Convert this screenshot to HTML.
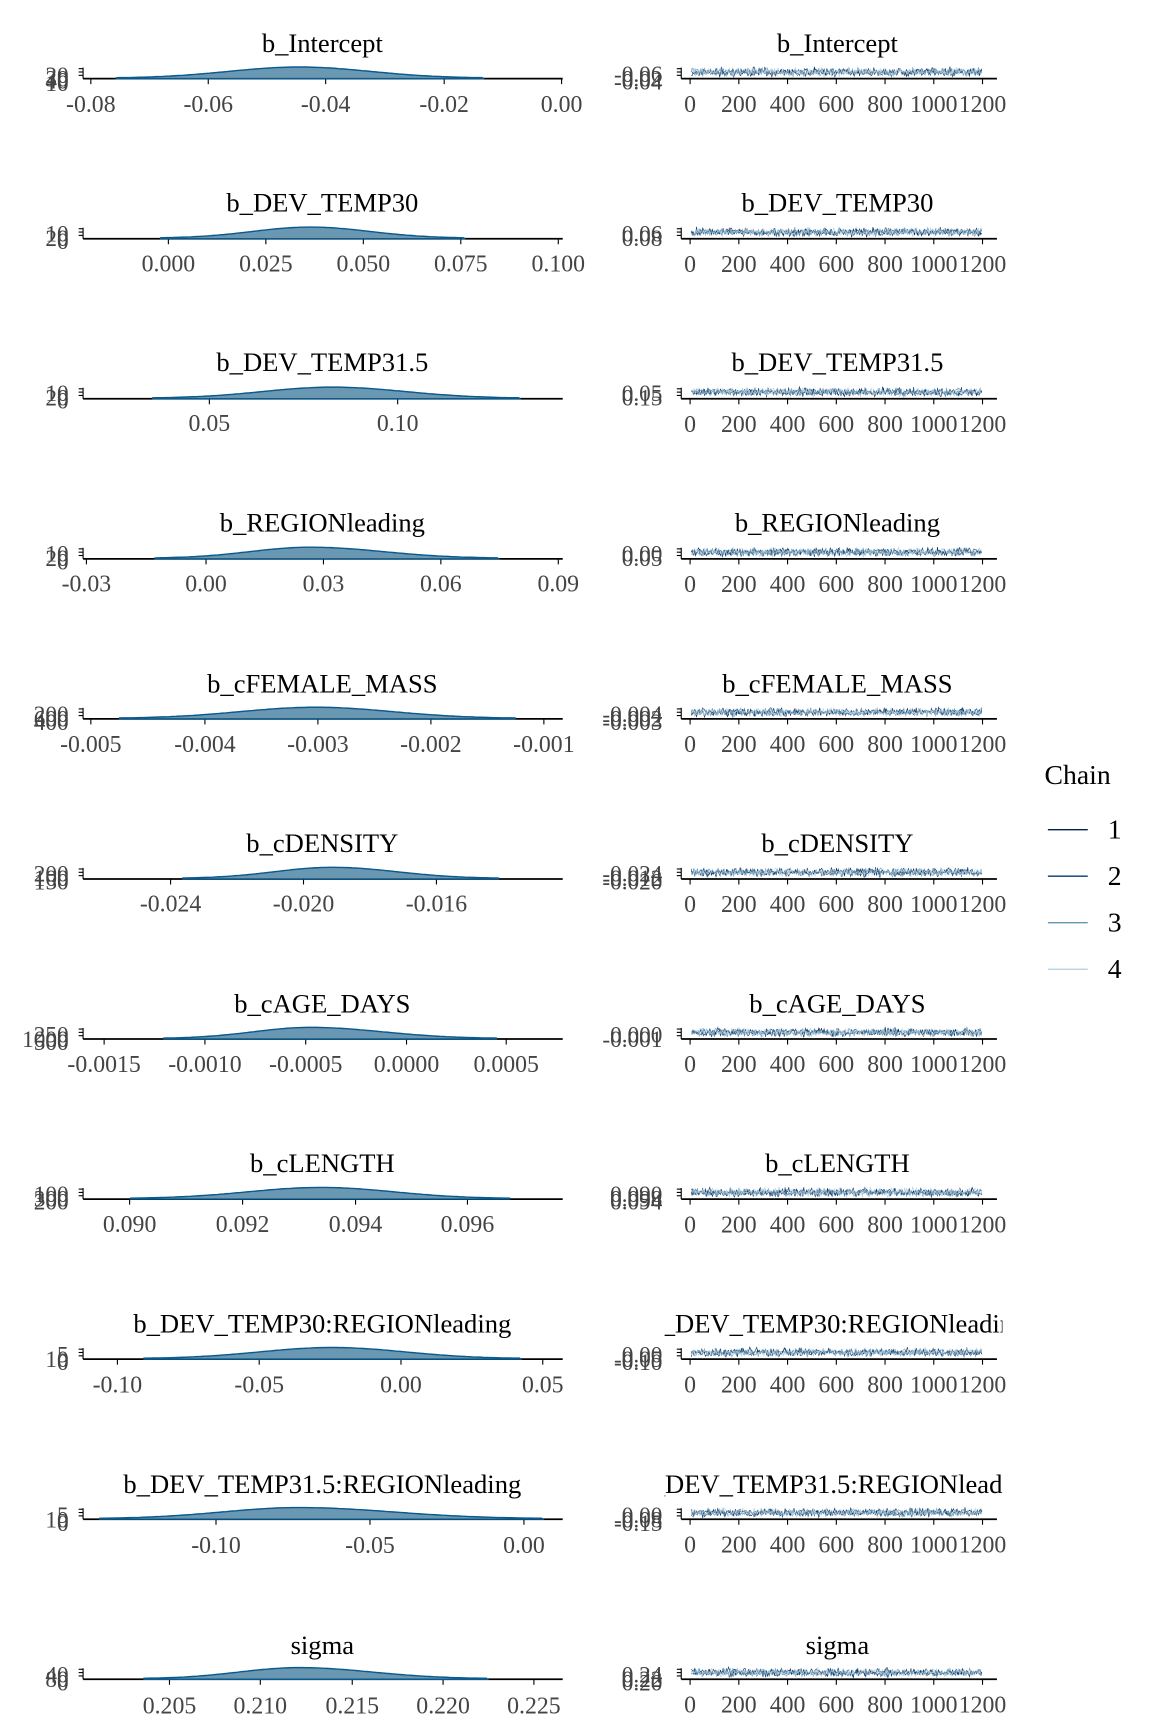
<!DOCTYPE html>
<html><head><meta charset="utf-8"><style>
html,body{margin:0;padding:0;background:#fff;}
svg text{font-family:"Liberation Serif",serif;}
</style></head><body>
<svg id="s" xmlns="http://www.w3.org/2000/svg" width="1152" height="1728" viewBox="0 0 1040 1560">
<defs><clipPath id="rc"><rect x="600" y="0" width="305" height="1560"/></clipPath></defs>
<g id="g"></g>
<g font-size="24" fill="#000" text-anchor="middle">
<text x="291" y="47">b_Intercept</text><text x="756" y="47">b_Intercept</text>
<text x="291" y="191">b_DEV_TEMP30</text><text x="756" y="191">b_DEV_TEMP30</text>
<text x="291" y="335">b_DEV_TEMP31.5</text><text x="756" y="335">b_DEV_TEMP31.5</text>
<text x="291" y="480">b_REGIONleading</text><text x="756" y="480">b_REGIONleading</text>
<text x="291" y="625">b_cFEMALE_MASS</text><text x="756" y="625">b_cFEMALE_MASS</text>
<text x="291" y="769">b_cDENSITY</text><text x="756" y="769">b_cDENSITY</text>
<text x="291" y="914">b_cAGE_DAYS</text><text x="756" y="914">b_cAGE_DAYS</text>
<text x="291" y="1058">b_cLENGTH</text><text x="756" y="1058">b_cLENGTH</text>
<text x="291" y="1203">b_DEV_TEMP30:REGIONleading</text><text x="756" y="1203" clip-path="url(#rc)">b_DEV_TEMP30:REGIONleading</text>
<text x="291" y="1348">b_DEV_TEMP31.5:REGIONleading</text><text x="756" y="1348" clip-path="url(#rc)">b_DEV_TEMP31.5:REGIONleading</text>
<text x="291" y="1493">sigma</text><text x="756" y="1493">sigma</text>
</g>
<g font-size="21.5" fill="#444" text-anchor="middle">
<text x="82" y="101">-0.08</text><text x="188" y="101">-0.06</text><text x="294" y="101">-0.04</text><text x="401" y="101">-0.02</text><text x="507" y="101">0.00</text>
<text x="152" y="245">0.000</text><text x="240" y="245">0.025</text><text x="328" y="245">0.050</text><text x="416" y="245">0.075</text><text x="504" y="245">0.100</text>
<text x="189" y="389">0.05</text><text x="359" y="389">0.10</text>
<text x="78" y="534">-0.03</text><text x="186" y="534">0.00</text><text x="292" y="534">0.03</text><text x="398" y="534">0.06</text><text x="504" y="534">0.09</text>
<text x="82" y="679">-0.005</text><text x="185" y="679">-0.004</text><text x="287" y="679">-0.003</text><text x="389" y="679">-0.002</text><text x="491" y="679">-0.001</text>
<text x="154" y="823">-0.024</text><text x="274" y="823">-0.020</text><text x="394" y="823">-0.016</text>
<text x="94" y="968">-0.0015</text><text x="185" y="968">-0.0010</text><text x="276" y="968">-0.0005</text><text x="367" y="968">0.0000</text><text x="457" y="968">0.0005</text>
<text x="117" y="1112">0.090</text><text x="219" y="1112">0.092</text><text x="321" y="1112">0.094</text><text x="422" y="1112">0.096</text>
<text x="106" y="1257">-0.10</text><text x="234" y="1257">-0.05</text><text x="362" y="1257">0.00</text><text x="490" y="1257">0.05</text>
<text x="195" y="1402">-0.10</text><text x="334" y="1402">-0.05</text><text x="473" y="1402">0.00</text>
<text x="153" y="1547">0.205</text><text x="235" y="1547">0.210</text><text x="318" y="1547">0.215</text><text x="400" y="1547">0.220</text><text x="482" y="1547">0.225</text>
</g>
<g font-size="21" fill="#444" text-anchor="end">
<text x="62" y="78">30</text><text x="62" y="75">20</text><text x="62" y="82">10</text><text x="62" y="80">40</text>
<text x="598" y="78">0.02</text><text x="598" y="74">-0.06</text><text x="598" y="81">-0.04</text>
<text x="62" y="222">20</text><text x="62" y="218">10</text><text x="62" y="225">0</text>
<text x="598" y="222">0.08</text><text x="598" y="218">0.06</text>
<text x="62" y="366">20</text><text x="62" y="362">10</text><text x="62" y="369">0</text>
<text x="598" y="366">0.15</text><text x="598" y="362">0.05</text>
<text x="62" y="511">20</text><text x="62" y="507">10</text><text x="62" y="514">0</text>
<text x="598" y="511">0.05</text><text x="598" y="507">0.00</text>
<text x="62" y="656">600</text><text x="62" y="652">200</text><text x="62" y="659">400</text>
<text x="598" y="656">-0.002</text><text x="598" y="652">-0.004</text><text x="598" y="659">-0.003</text>
<text x="62" y="800">100</text><text x="62" y="796">200</text><text x="62" y="803">150</text>
<text x="598" y="800">-0.012</text><text x="598" y="796">-0.024</text><text x="598" y="803">-0.020</text>
<text x="62" y="945">1000</text><text x="62" y="941">250</text><text x="62" y="948">500</text>
<text x="598" y="945">-0.001</text><text x="598" y="941">0.000</text>
<text x="62" y="1089">300</text><text x="62" y="1085">100</text><text x="62" y="1092">200</text>
<text x="598" y="1089">0.098</text><text x="598" y="1085">0.090</text><text x="598" y="1092">0.094</text>
<text x="62" y="1234">10</text><text x="62" y="1230">5</text><text x="62" y="1237">0</text>
<text x="598" y="1234">-0.05</text><text x="598" y="1230">0.00</text><text x="598" y="1237">-0.10</text>
<text x="62" y="1379">10</text><text x="62" y="1375">5</text><text x="62" y="1382">0</text>
<text x="598" y="1379">-0.08</text><text x="598" y="1375">0.00</text><text x="598" y="1382">-0.15</text>
<text x="62" y="1523">80</text><text x="62" y="1519">40</text><text x="62" y="1526">0</text>
<text x="598" y="1523">0.22</text><text x="598" y="1519">0.24</text><text x="598" y="1526">0.20</text>
</g>
<g font-size="25" fill="#000">
<text x="943" y="708">Chain</text>
<text x="1000" y="757">1</text><text x="1000" y="799">2</text><text x="1000" y="841">3</text><text x="1000" y="883">4</text>
</g>
<g stroke-width="1.2">
<line x1="946" y1="749" x2="982" y2="749" stroke="#011f4b"/>
<line x1="946" y1="791" x2="982" y2="791" stroke="#03396c"/>
<line x1="946" y1="833" x2="982" y2="833" stroke="#6497b1"/>
<line x1="946" y1="875" x2="982" y2="875" stroke="#b3cde0"/>
</g>
<g font-size="21.5" fill="#444" text-anchor="middle">
<g><text x="623" y="101">0</text><text x="667" y="101">200</text><text x="711" y="101">400</text><text x="755" y="101">600</text><text x="799" y="101">800</text><text x="843" y="101">1000</text><text x="887" y="101">1200</text></g>
<g transform="translate(0,144.5)"><text x="623" y="101">0</text><text x="667" y="101">200</text><text x="711" y="101">400</text><text x="755" y="101">600</text><text x="799" y="101">800</text><text x="843" y="101">1000</text><text x="887" y="101">1200</text></g>
<g transform="translate(0,289)"><text x="623" y="101">0</text><text x="667" y="101">200</text><text x="711" y="101">400</text><text x="755" y="101">600</text><text x="799" y="101">800</text><text x="843" y="101">1000</text><text x="887" y="101">1200</text></g>
<g transform="translate(0,433.5)"><text x="623" y="101">0</text><text x="667" y="101">200</text><text x="711" y="101">400</text><text x="755" y="101">600</text><text x="799" y="101">800</text><text x="843" y="101">1000</text><text x="887" y="101">1200</text></g>
<g transform="translate(0,578)"><text x="623" y="101">0</text><text x="667" y="101">200</text><text x="711" y="101">400</text><text x="755" y="101">600</text><text x="799" y="101">800</text><text x="843" y="101">1000</text><text x="887" y="101">1200</text></g>
<g transform="translate(0,722.5)"><text x="623" y="101">0</text><text x="667" y="101">200</text><text x="711" y="101">400</text><text x="755" y="101">600</text><text x="799" y="101">800</text><text x="843" y="101">1000</text><text x="887" y="101">1200</text></g>
<g transform="translate(0,867)"><text x="623" y="101">0</text><text x="667" y="101">200</text><text x="711" y="101">400</text><text x="755" y="101">600</text><text x="799" y="101">800</text><text x="843" y="101">1000</text><text x="887" y="101">1200</text></g>
<g transform="translate(0,1011.5)"><text x="623" y="101">0</text><text x="667" y="101">200</text><text x="711" y="101">400</text><text x="755" y="101">600</text><text x="799" y="101">800</text><text x="843" y="101">1000</text><text x="887" y="101">1200</text></g>
<g transform="translate(0,1156)"><text x="623" y="101">0</text><text x="667" y="101">200</text><text x="711" y="101">400</text><text x="755" y="101">600</text><text x="799" y="101">800</text><text x="843" y="101">1000</text><text x="887" y="101">1200</text></g>
<g transform="translate(0,1300.5)"><text x="623" y="101">0</text><text x="667" y="101">200</text><text x="711" y="101">400</text><text x="755" y="101">600</text><text x="799" y="101">800</text><text x="843" y="101">1000</text><text x="887" y="101">1200</text></g>
<g transform="translate(0,1445)"><text x="623" y="101">0</text><text x="667" y="101">200</text><text x="711" y="101">400</text><text x="755" y="101">600</text><text x="799" y="101">800</text><text x="843" y="101">1000</text><text x="887" y="101">1200</text></g>
</g>
</svg>
<script>
var NS="http://www.w3.org/2000/svg",g=document.getElementById('g');
function el(t,a){var e=document.createElementNS(NS,t);for(var k in a)e.setAttribute(k,a[k]);g.appendChild(e);return e;}
var rows=[
[[82,188,294,401,507],105,437,270],
[[152,240,328,416,504],145,420,280],
[[189,359],138,470,300],
[[78,186,292,398,504],140,450,280],
[[82,185,287,389,491],108,465,285],
[[154,274,394],165,450,300],
[[94,185,276,367,457],148,448,280],
[[117,219,321,422],118,460,290],
[[106,234,362,490],130,470,300],
[[195,334,473],90,490,270],
[[153,235,318,400,482],130,440,270]];
var seed=7;function rnd(){seed=(seed*16807)%2147483647;return seed/2147483647;}
var cols=["#011f4b","#03396c","#6497b1","#b3cde0"];
rows.forEach(function(r,i){
 var ay=71+i*144.5;
 el('line',{x1:75,y1:ay,x2:508,y2:ay,stroke:'#000','stroke-width':1.6});
 el('line',{x1:75,y1:ay,x2:75,y2:ay-10,stroke:'#000','stroke-width':1});
 [ay-9,ay-6,ay-3].forEach(function(y){el('line',{x1:71,y1:y,x2:75,y2:y,stroke:'#000','stroke-width':1});});
 r[0].forEach(function(x){el('line',{x1:x,y1:ay,x2:x,y2:ay+5,stroke:'#000','stroke-width':1});});
 var x0=r[1],x1=r[2],pk=r[3],d='M'+x0+' '+ay;
 for(var x=x0;x<=x1;x+=3){var s=x<pk?(pk-x0)/2.6:(x1-pk)/2.6;var h=10*Math.exp(-Math.pow((x-pk)/s,2)/2)+0.5;d+=' L'+x+' '+(ay-h).toFixed(1);}
 d+=' L'+x1+' '+ay+' Z';
 el('path',{d:d,fill:'#6a98b2',stroke:'#0b5a8e','stroke-width':1.3});
 el('line',{x1:615,y1:ay,x2:900,y2:ay,stroke:'#000','stroke-width':1.6});
 el('line',{x1:615,y1:ay,x2:615,y2:ay-10,stroke:'#000','stroke-width':1});
 [ay-9,ay-6,ay-3].forEach(function(y){el('line',{x1:611,y1:y,x2:615,y2:y,stroke:'#000','stroke-width':1});});
 for(var k=0;k<7;k++){var tx=623+k*44;el('line',{x1:tx,y1:ay,x2:tx,y2:ay+5,stroke:'#000','stroke-width':1});}
 for(var c=0;c<4;c++){var p='';for(var x=624;x<=887;x+=0.8){p+=(p?' L':'M')+x.toFixed(1)+' '+(ay-6+(rnd()+rnd()+rnd()-1.5)*3.5).toFixed(1);}
  el('path',{d:p,fill:'none',stroke:cols[c],'stroke-width':0.6,opacity:0.9});}
});
</script>
</body></html>
